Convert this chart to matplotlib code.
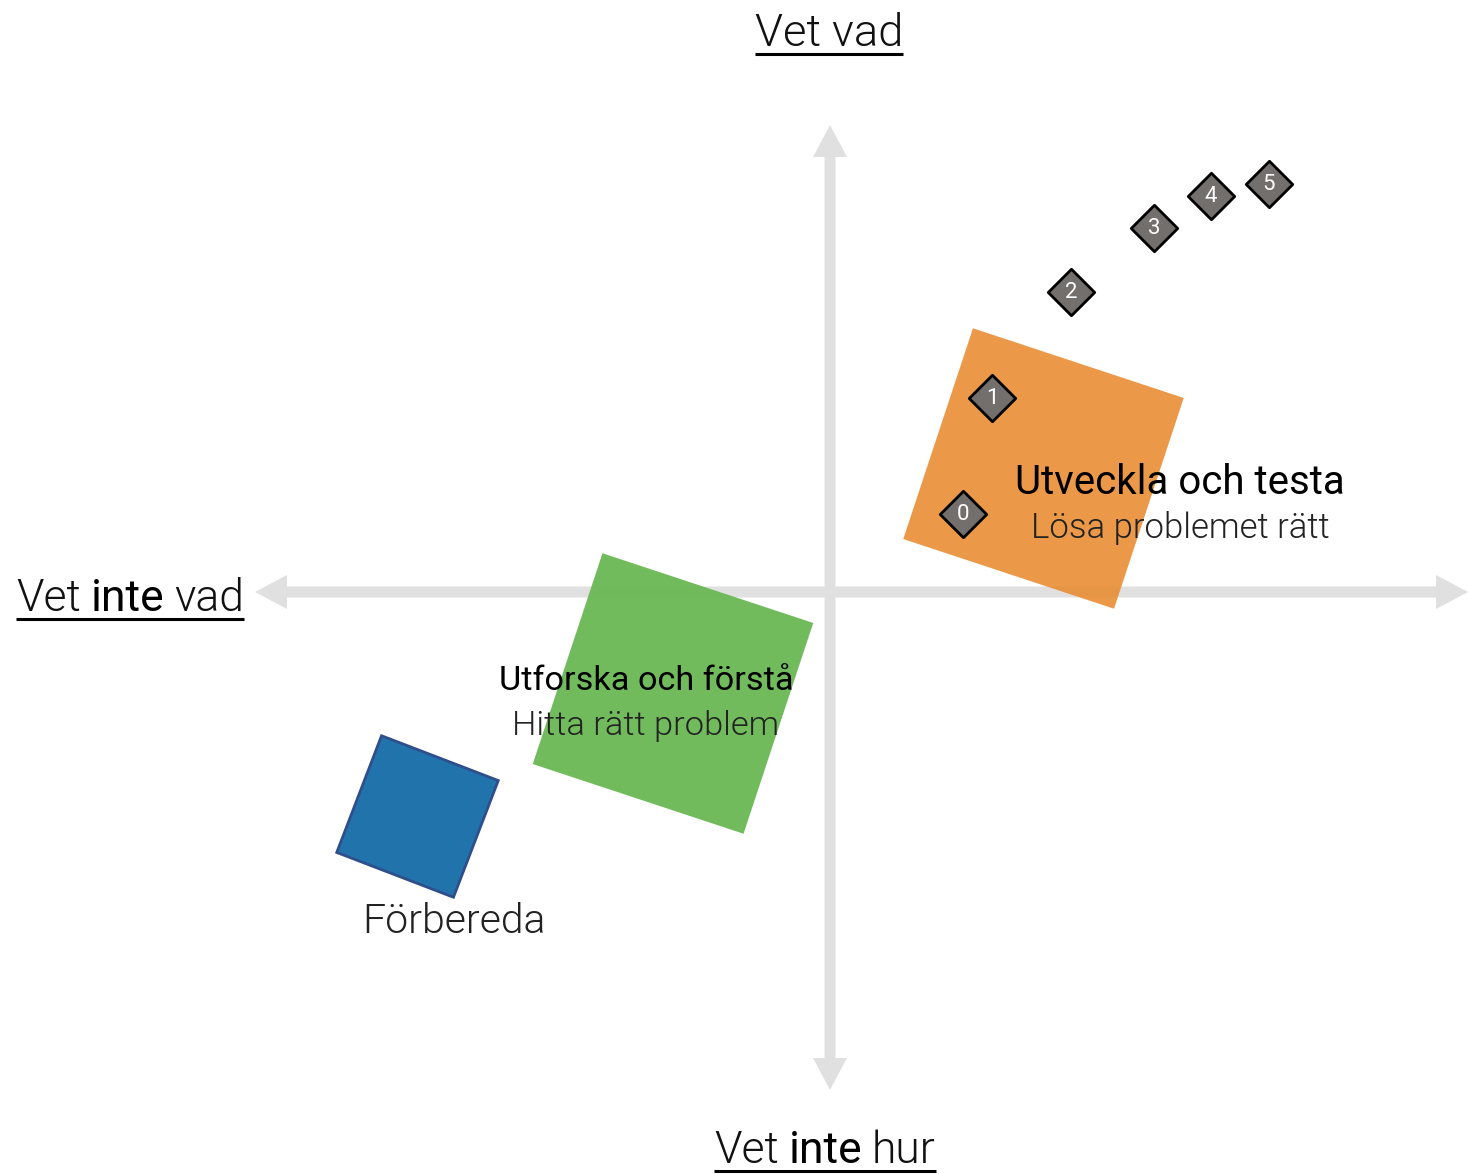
import numpy as np
import matplotlib
matplotlib.use("Agg")
import matplotlib.pyplot as plt
from matplotlib import font_manager as fm
from matplotlib.patches import Polygon, FancyArrow

# Phases drawn as rotated squares (center x, center y, side, rotation in degrees) in pixel units
phase_names = ["Förbereda", "Utforska och förstå", "Utveckla och testa"]
phase_sub = ["", "Hitta rätt problem", "Lösa problemet rätt"]
phase_cx = [417.5, 673, 1043.5]
phase_cy = [816.5, 693.5, 468.5]
phase_side = [125, 222, 222]
phase_angle = [21, 18.3, 18.3]
phase_colors = ["#2174AB", "#6CB958", "#E8892A"]
phase_alpha = [1.0, 0.97, 0.86]

# Numbered steps (diamonds)
step_labels = ["0", "1", "2", "3", "4", "5"]
step_x = [963, 992, 1071, 1154, 1211, 1269]
step_y = [514, 398, 292, 228, 196, 184]

# Axis labels: pieces (text, emphasised?)
top_label = [("Vet vad", False)]
bottom_label = [("Vet", False), ("inte", True), ("hur", False)]
left_label = [("Vet", False), ("inte", True), ("vad", False)]

W, H = 1468, 1174
center = (830, 592)

# pick a light font if one is installed
light_font, regular_font = "DejaVu Sans", "DejaVu Sans"
for fam in ["Roboto", "Lato", "Open Sans", "Inter", "Noto Sans"]:
    ents = [f for f in fm.fontManager.ttflist if f.name == fam]
    lights = [f for f in ents if isinstance(f.weight, int) and f.weight <= 300 and f.style == "normal"]
    if lights:
        light_font = fam
        regular_font = fam
        break
light_w = 300 if light_font != "DejaVu Sans" else "normal"

fig = plt.figure(figsize=(W / 100, H / 100), dpi=100)
ax = fig.add_axes([0, 0, 1, 1])
ax.set_xlim(0, W)
ax.set_ylim(H, 0)
ax.axis("off")
renderer = fig.canvas.get_renderer()

# arrows
arrow_kw = dict(width=11, head_width=34, head_length=32, length_includes_head=True,
                color="#E0E0E0", lw=0, zorder=1)
ax.add_patch(FancyArrow(center[0], center[1], 255 - center[0], 0, **arrow_kw))
ax.add_patch(FancyArrow(center[0], center[1], W - center[0], 0, **arrow_kw))
ax.add_patch(FancyArrow(center[0], center[1], 0, 125 - center[1], **arrow_kw))
ax.add_patch(FancyArrow(center[0], center[1], 0, 1090 - center[1], **arrow_kw))

# squares
for i in range(len(phase_names)):
    a = np.deg2rad(phase_angle[i])
    h = phase_side[i] / 2
    base = np.array([[-h, -h], [h, -h], [h, h], [-h, h]])
    rot = np.array([[np.cos(a), -np.sin(a)], [np.sin(a), np.cos(a)]])
    pts = base @ rot.T + [phase_cx[i], phase_cy[i]]
    ec = "#2F4E8C" if i == 0 else "none"
    ax.add_patch(Polygon(pts, closed=True, facecolor=phase_colors[i], alpha=phase_alpha[i],
                         edgecolor=ec, lw=2, zorder=2))

# phase texts
ax.text(454, 922, phase_names[0], fontsize=29.5, family=light_font, weight=light_w,
        ha="center", va="center", color="#222222", zorder=5)
ax.text(646, 681, phase_names[1], fontsize=24.7, family=regular_font,
        ha="center", va="center", color="black", zorder=5)
ax.text(646, 726, phase_sub[1], fontsize=24.8, family=light_font, weight=light_w,
        ha="center", va="center", color="#222222", zorder=5)
ax.text(1180, 482, phase_names[2], fontsize=29, family=regular_font,
        ha="center", va="center", color="black", zorder=5)
ax.text(1180, 528, phase_sub[2], fontsize=25, family=light_font, weight=light_w,
        ha="center", va="center", color="#222222", zorder=5)

# diamonds
ax.scatter(step_x, step_y, marker="D", s=560, facecolor="#736F6D", edgecolor="black",
           linewidths=2, zorder=6)
for lab, x, y in zip(step_labels, step_x, step_y):
    ax.text(x, y + 1, lab, fontsize=16, color="white", ha="center", va="center",
            family=regular_font, zorder=7)


def underlined(pieces, x, y, size, align="center"):
    texts = []
    for s, emph in pieces:
        if emph:
            t = ax.text(0, y, s, fontsize=size, family=regular_font, weight="normal",
                        color="black", va="baseline", ha="left")
        else:
            t = ax.text(0, y, s, fontsize=size, family=light_font, weight=light_w,
                        color="#111111", va="baseline", ha="left")
        texts.append(t)
    widths = [t.get_window_extent(renderer).width for t in texts]
    gap = size * 100 / 72 * 0.22
    total = sum(widths) + gap * (len(texts) - 1)
    x0 = x - total / 2 if align == "center" else x
    cur = x0
    for t, w in zip(texts, widths):
        t.set_x(cur)
        cur += w + gap
    ax.plot([x0, x0 + total], [y + 8, y + 8], color="black", lw=2.2, solid_capstyle="butt")


underlined(top_label, 829, 46, 32.7)
underlined(bottom_label, 825, 1163, 32)
underlined(left_label, 16, 611, 32, align="left")

fig.savefig("out.png", dpi=100)
